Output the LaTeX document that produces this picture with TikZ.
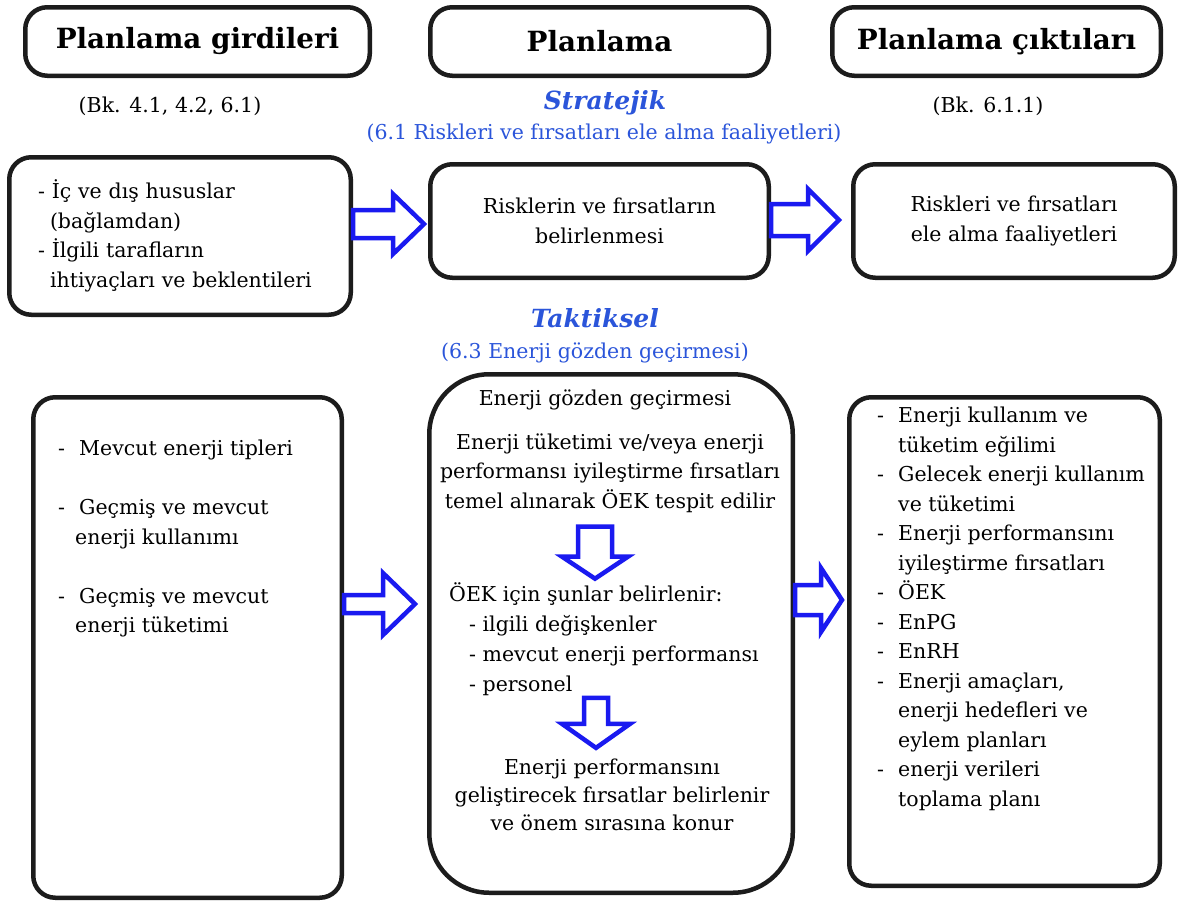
\documentclass[tikz,border=0pt]{standalone}
\usepackage{fontspec}
\setmainfont{DejaVu Serif}
\usepackage{tikz}
\usetikzlibrary{calc,positioning}
\definecolor{inkblue}{HTML}{2B55DA}
\definecolor{arrowblue}{HTML}{1A1AF0}
\definecolor{frame}{HTML}{1C1C1C}
\newcommand\itm{\makebox[21pt][l]{-}}
\newcommand\ctn{\hspace*{21pt}}
\newcommand\rblock[5]{\draw[blockarr] let \p1=#1, \p2=#2 in
  ({\x1},{\y1-#3pt}) -- ({\x2-#5pt},{\y1-#3pt}) -- ({\x2-#5pt},{\y1-#4pt}) -- ({\x2},{\y1})
  -- ({\x2-#5pt},{\y1+#4pt}) -- ({\x2-#5pt},{\y1+#3pt}) -- ({\x1},{\y1+#3pt}) -- cycle;}
\newcommand\dblock[5]{\draw[blockarr] let \p1=#1, \p2=#2 in
  ({\x1-#3pt},{\y1}) -- ({\x1-#3pt},{\y2+#5pt}) -- ({\x1-#4pt},{\y2+#5pt}) -- ({\x1},{\y2})
  -- ({\x1+#4pt},{\y2+#5pt}) -- ({\x1+#3pt},{\y2+#5pt}) -- ({\x1+#3pt},{\y1}) -- cycle;}

\begin{document}
\begin{tikzpicture}[x=1pt,y=-1pt,
  box/.style={draw=frame,line width=4.5pt,rounded corners=22pt,fill=white,inner sep=0pt},
  header/.style={box,font=\bfseries\fontsize{27.8}{32}\selectfont,minimum height=68.5pt},
  txt/.style={font=\fontsize{20.5}{29.5}\selectfont,inner sep=0pt},
  note/.style={inner sep=0pt,text=inkblue},
  blockarr/.style={draw=arrowblue,line width=4.5pt,fill=white,line join=miter}]
  \useasboundingbox[fill=white] (0,0) rectangle (1178,902);
  \foreach \n/\x/\w/\t in {hin/197.5/344.5/Planlama girdileri,hplan/599.5/338.5/Planlama,hout/996.5/328.5/Planlama çıktıları}{
     \node[header,minimum width=\w pt] (\n) at (\x,41.5) {\t};}
  \node[txt] (refin) at (170,106) {(Bk. 4.1, 4.2, 6.1)};
  \node[txt] (refout) at (988,106) {(Bk. 6.1.1)};
  \node[note,font=\bfseries\itshape\fontsize{25}{30}\selectfont] (strat) at (605,103) {Stratejik};
  \node[note,font=\fontsize{20.5}{24}\selectfont] (stratsub) at (604,134) {(6.1 Riskleri ve fırsatları ele alma faaliyetleri)};
  \node[note,font=\bfseries\itshape\fontsize{25}{30}\selectfont] (takt) at (595,318) {Taktiksel};
  \node[note,font=\fontsize{20.5}{24}\selectfont] (taktsub) at (595,353) {(6.3 Enerji gözden geçirmesi)};
  % stratejik
  \node[box,txt,minimum width=341.5pt,minimum height=157.5pt,text width=284pt,align=left] (l1) at (180,236)
   {- İç ve dış hususlar\\\hspace*{12pt}(bağlamdan)\\- İlgili tarafların\\\hspace*{12pt}ihtiyaçları ve beklentileri};
  \node[box,txt,minimum width=338.5pt,minimum height=113.5pt,align=center] (m1) at (599.5,221)
   {Risklerin ve fırsatların\\belirlenmesi};
  \node[box,txt,minimum width=321.5pt,minimum height=113.5pt,align=center] (r1) at (1014,221)
   {Riskleri ve fırsatları\\ele alma faaliyetleri};
  % taktiksel
  \node[box,minimum width=308.5pt,minimum height=500.5pt] (l2) at (187.5,647.5) {};
  \node[box,minimum width=363.5pt,minimum height=518.5pt,rounded corners=60pt] (m2) at (611,633.5) {};
  \node[box,minimum width=310.5pt,minimum height=488.5pt] (r2) at (1004.5,641.5) {};
  \node[txt,align=left,anchor=north west] (l2t) at (58,440)
   {\itm Mevcut enerji tipleri\\[29.5pt]\itm Geçmiş ve mevcut\\\hspace*{17pt}enerji kullanımı\\[29.5pt]
    \itm Geçmiş ve mevcut\\\hspace*{17pt}enerji tüketimi};
  \node[txt] (m2a) at (605,400) {Enerji gözden geçirmesi};
  \node[txt,align=center] (m2b) at (610,473)
   {Enerji tüketimi ve/veya enerji\\performansı iyileştirme fırsatları\\temel alınarak ÖEK tespit edilir};
  \node[txt,align=left,anchor=north west,font=\fontsize{20.5}{30}\selectfont] (m2c) at (449,582)
   {ÖEK için şunlar belirlenir:\\\hspace*{20pt}- ilgili değişkenler\\\hspace*{20pt}- mevcut enerji performansı\\\hspace*{20pt}- personel};
  \node[txt,align=center,font=\fontsize{20.5}{28}\selectfont] (m2d) at (612,795)
   {Enerji performansını\\geliştirecek fırsatlar belirlenir\\ve önem sırasına konur};
  \node[txt,align=left,anchor=north west] (r2t) at (877,407)
   {\itm Enerji kullanım ve\\\ctn tüketim eğilimi\\\itm Gelecek enerji kullanım\\\ctn ve tüketimi\\
    \itm Enerji performansını\\\ctn iyileştirme fırsatları\\\itm ÖEK\\\itm EnPG\\\itm EnRH\\
    \itm Enerji amaçları,\\\ctn enerji hedefleri ve\\\ctn eylem planları\\\itm enerji verileri\\\ctn toplama planı};
  % block arrows
  \rblock{(l1.east |- 0,224)}{($(m1.west)+(-4,0)$)}{14}{30}{31}
  \rblock{(m1.east |- 0,220)}{($(r1.west)+(-12,0)$)}{16}{31}{31}
  \rblock{(l2.east |- 0,604)}{($(m2.west)+(-12,0)$)}{9}{31}{32}
  \rblock{(m2.east |- 0,600)}{($(r2.west)+(-5,0)$)}{15}{32}{21}
  \dblock{($(m2b.south)+(-15,14)$)}{($(m2b.south)+(-15,66)$)}{17}{33}{22}
  \dblock{($(m2d.north)+(-16,-61)$)}{($(m2d.north)+(-16,-11)$)}{12}{34}{24}
\end{tikzpicture}
\end{document}
